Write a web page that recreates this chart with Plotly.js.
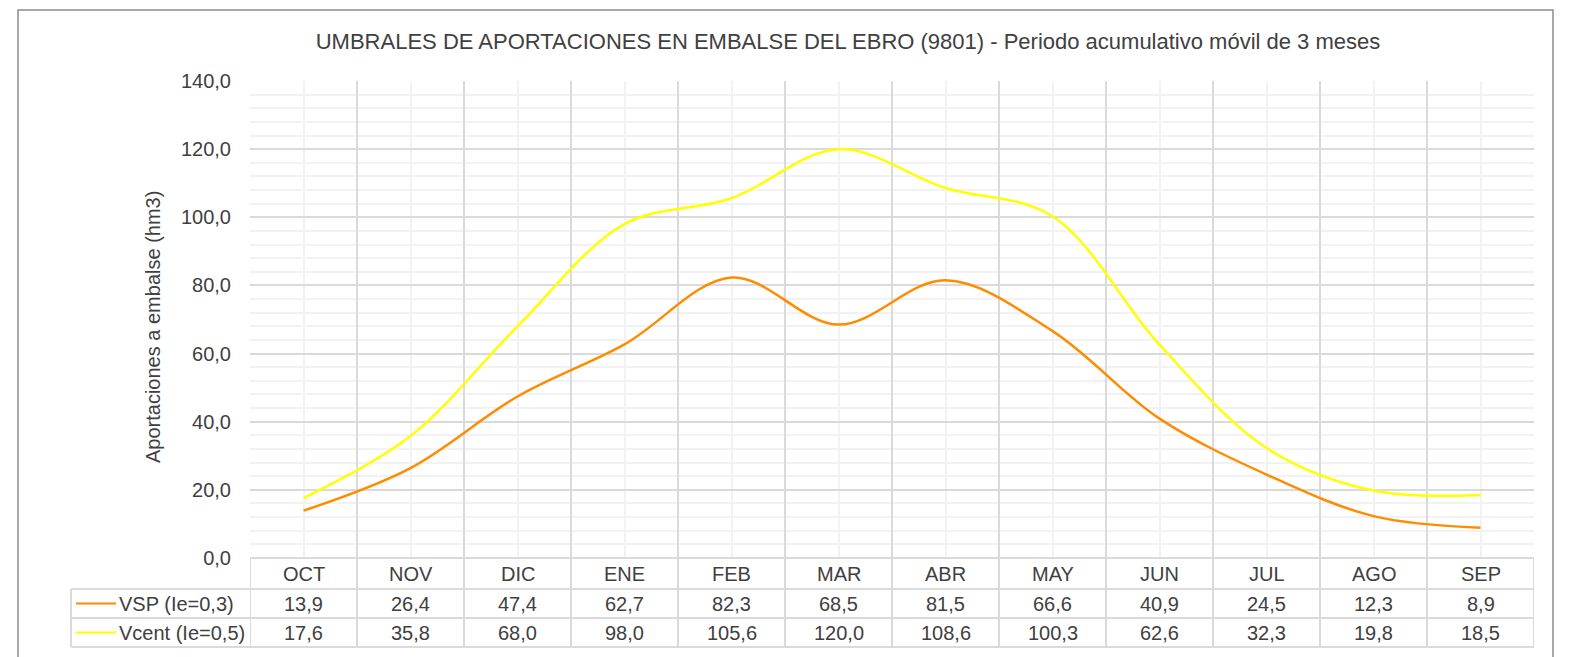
<!DOCTYPE html>
<html>
<head>
<meta charset="utf-8">
<script src="https://cdn.plot.ly/plotly-3.0.1.min.js"></script>
<style>html,body{margin:0;padding:0;background:#fff;}#chart{width:1583px;height:657px;}</style>
</head>
<body>
<div id="chart"></div>
<script>
const months = ["OCT","NOV","DIC","ENE","FEB","MAR","ABR","MAY","JUN","JUL","AGO","SEP"];
const vsp = [13.9, 26.4, 47.4, 62.7, 82.3, 68.5, 81.5, 66.6, 40.9, 24.5, 12.3, 8.9];
const vcent = [17.6, 35.8, 68.0, 98.0, 105.6, 120.0, 108.6, 100.3, 62.6, 32.3, 19.8, 18.5];
const seriesNames = ["VSP (Ie=0,3)", "Vcent (Ie=0,5)"];
const seriesColors = ["#FF8C00", "#FFFF00"];
const yTickVals = [0, 20, 40, 60, 80, 100, 120, 140];

const W = 1583, H = 657;
const L = 250, R = 49, T = 81, B = 99;
const pw = W - L - R, ph = H - T - B;
const px2x = p => (p - L) / pw;
const py2y = p => (H - B - p) / ph;

const xs = months.map((m, i) => i);
const fmt = v => v.toFixed(1).replace('.', ',');

const traces = [
  {x: xs, y: vsp, name: seriesNames[0], mode: 'lines', line: {color: seriesColors[0], width: 2.5, shape: 'spline', smoothing: 1}, hoverinfo: 'y'},
  {x: xs, y: vcent, name: seriesNames[1], mode: 'lines', line: {color: seriesColors[1], width: 2.5, shape: 'spline', smoothing: 1}, hoverinfo: 'y'}
];

const gridCol = '#dadada';
const minorCol = '#f2f2f2';
const gw = 2;
const shapes = [];
const annotations = [];
const tableBottom = py2y(647);
const row1 = py2y(589), row2 = py2y(618);
const tableLeft = px2x(71);

// outer border
shapes.push({type: 'rect', xref: 'paper', yref: 'paper', x0: px2x(18), x1: px2x(1553), y0: py2y(700), y1: py2y(10), line: {color: '#8c8c8c', width: 1.5}, layer: 'below'});
// vertical boundaries extending into table
for (let i = 0; i <= months.length; i++) {
  shapes.push({type: 'line', xref: 'x', yref: 'paper', x0: i - 0.5, x1: i - 0.5, y0: tableBottom, y1: 0, line: {color: gridCol, width: gw}});
}
// horizontal table lines
[row1, row2, tableBottom].forEach(y => {
  shapes.push({type: 'line', xref: 'paper', yref: 'paper', x0: tableLeft, x1: 1, y0: y, y1: y, line: {color: gridCol, width: gw}});
});
shapes.push({type: 'line', xref: 'paper', yref: 'paper', x0: tableLeft, x1: tableLeft, y0: tableBottom, y1: row1, line: {color: gridCol, width: gw}});

const txtFont = {family: 'Liberation Sans, Arial, sans-serif', size: 20, color: '#404040'};
const headerY = (0 + row1) / 2;
const r1Y = (row1 + row2) / 2;
const r2Y = (row2 + tableBottom) / 2;
months.forEach((m, i) => {
  annotations.push({x: i, y: headerY, xref: 'x', yref: 'paper', text: m, showarrow: false, font: txtFont, xanchor: 'center', yanchor: 'middle'});
  annotations.push({x: i, y: r1Y, xref: 'x', yref: 'paper', text: fmt(vsp[i]), showarrow: false, font: txtFont, xanchor: 'center', yanchor: 'middle'});
  annotations.push({x: i, y: r2Y, xref: 'x', yref: 'paper', text: fmt(vcent[i]), showarrow: false, font: txtFont, xanchor: 'center', yanchor: 'middle'});
});
// legend keys in table
[[r1Y, 0], [r2Y, 1]].forEach(([y, k]) => {
  shapes.push({type: 'line', xref: 'paper', yref: 'paper', x0: px2x(76), x1: px2x(116), y0: y, y1: y, line: {color: seriesColors[k], width: 2}});
  annotations.push({x: px2x(117), y: y, xref: 'paper', yref: 'paper', text: seriesNames[k], showarrow: false, font: txtFont, xanchor: 'left', yanchor: 'middle'});
});
// y-axis title
annotations.push({x: px2x(153), y: py2y(327), xref: 'paper', yref: 'paper', text: 'Aportaciones a embalse (hm3)', textangle: -90, showarrow: false, font: txtFont, xanchor: 'center', yanchor: 'middle'});

const layout = {
  width: W, height: H,
  margin: {l: L, r: R, t: T, b: B, pad: 0},
  paper_bgcolor: '#ffffff', plot_bgcolor: '#ffffff',
  showlegend: false,
  separators: ',.',
  title: {text: 'UMBRALES DE APORTACIONES EN EMBALSE DEL EBRO (9801) - Periodo acumulativo móvil de 3 meses', x: 848 / W, xref: 'container', xanchor: 'center', y: 1 - 41 / H, yref: 'container', yanchor: 'middle', font: {family: 'Liberation Sans, Arial, sans-serif', size: 22, color: '#404040'}},
  xaxis: {
    type: 'linear', range: [-0.5, months.length - 0.5], fixedrange: true,
    tickvals: xs.map(i => i - 0.5).concat([months.length - 0.5]), ticktext: [], showticklabels: false,
    showgrid: true, gridcolor: gridCol, gridwidth: gw, zeroline: false, showline: false, ticks: '',
    minor: {tick0: 0, dtick: 1, showgrid: true, gridcolor: minorCol, gridwidth: gw}
  },
  yaxis: {
    range: [0, 140], fixedrange: true, tickvals: yTickVals, tickformat: '.1f',
    showgrid: true, gridcolor: gridCol, gridwidth: gw, zeroline: true, zerolinecolor: gridCol, zerolinewidth: gw,
    showline: false, ticks: 'outside', ticklen: 14, tickcolor: 'rgba(0,0,0,0)',
    tickfont: {family: 'Liberation Sans, Arial, sans-serif', size: 20, color: '#404040'},
    minor: {dtick: 4, showgrid: true, gridcolor: minorCol, gridwidth: gw}
  },
  shapes: shapes,
  annotations: annotations
};
Plotly.newPlot('chart', traces, layout, {displayModeBar: false, staticPlot: true});
</script>
</body>
</html>
